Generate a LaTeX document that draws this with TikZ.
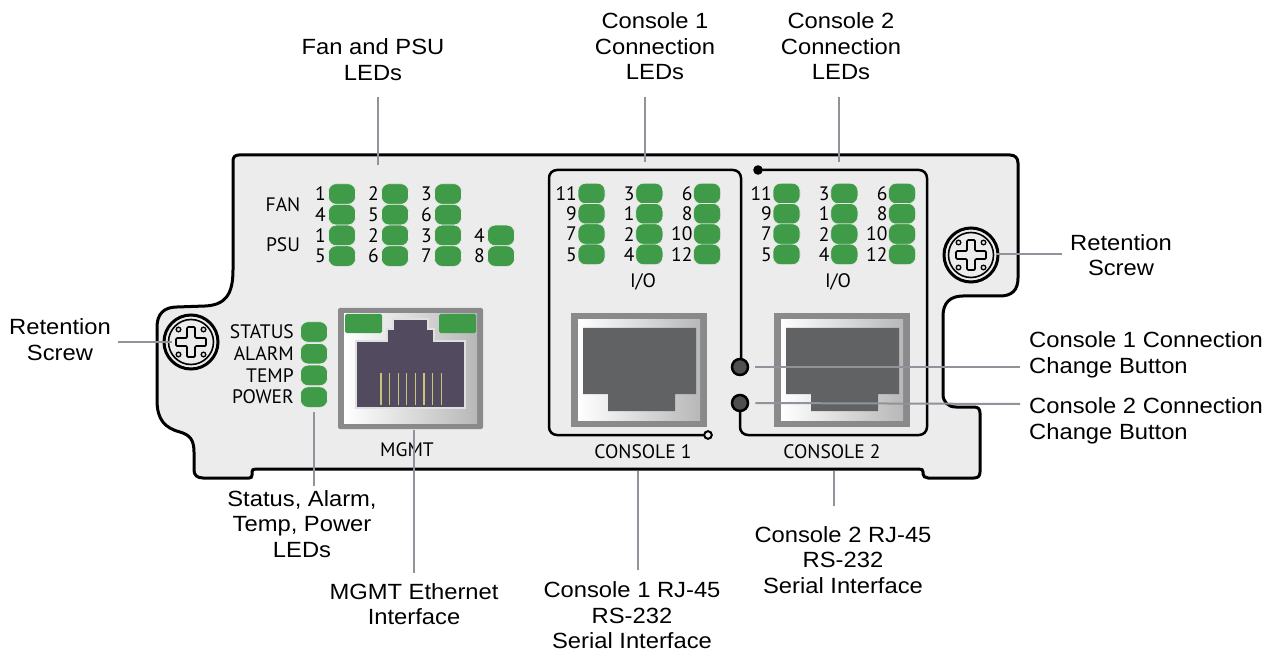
\documentclass[tikz,border=0pt]{standalone}
\usepackage{fontspec}
\setmainfont{Liberation Sans}[FakeStretch=1.08]
\newfontfamily\panelfont{PT Sans}
\definecolor{ledgreen}{HTML}{3F9B48}
\definecolor{panelbg}{HTML}{EBECEB}
\definecolor{callgray}{HTML}{8E949A}
\definecolor{framegray}{HTML}{8A8A8C}
\definecolor{jackpurple}{HTML}{524A5E}
\definecolor{jackgray}{HTML}{616264}
\definecolor{pinyellow}{HTML}{C8C27C}
\definecolor{btngray}{HTML}{4E4F51}
\tikzset{
  led/.style={rectangle, rounded corners=7.5pt, fill=ledgreen, draw=panelbg, line width=0.6pt,
    minimum width=27pt, minimum height=20.5pt, inner sep=0pt},
  ptxt/.style={font=\panelfont\fontsize{19.5}{21}\selectfont, inner sep=0pt},
  num/.style={ptxt, anchor=east},
  call/.style={font=\fontsize{22}{25.5}\selectfont, align=center, inner sep=0pt},
  callout/.style={draw=callgray, line width=2pt},
  boxline/.style={draw=black, line width=2.5pt},
  btn/.style={circle, fill=btngray, draw=black, line width=2.5pt, minimum size=16pt, inner sep=0pt},
  retscrew/.pic={
    \draw[line width=3pt, fill=panelbg] (0,0) circle (27);
    \draw[line width=1.6pt] (0,0) circle (22.5);
    \draw[line width=1.7pt, fill=panelbg, rounded corners=1.2pt] (-4,-15) -- (4,-15) -- (4,-4) -- (15,-4) -- (15,4) -- (4,4) -- (4,15) -- (-4,15) -- (-4,4) -- (-15,4) -- (-15,-4) -- (-4,-4) -- cycle;
    \foreach \sx in {-1,1} \foreach \sy in {-1,1} \draw[line width=1.3pt] (12.5*\sx,12.5*\sy) circle (2.3);
  }
}
\begin{document}
\begin{tikzpicture}[x=1pt,y=-1pt]
\useasboundingbox[fill=white] (0,0) rectangle (1269,652);

% panel outline
\draw[line width=3pt, fill=panelbg] (239,155) -- (1010,155) .. controls (1015,155) and (1018,158) .. (1018,163)
 -- (1018,278) .. controls (1018,290) and (1012,296) .. (1000,296)
 -- (963,296) .. controls (950,296) and (943,303) .. (943,316)
 -- (943,394) .. controls (943,402) and (948,407) .. (956,407)
 -- (974,407) .. controls (978,407) and (980,409) .. (980,413)
 -- (980,472) .. controls (980,476) and (978,478) .. (974,478)
 -- (928,478) .. controls (925,478) and (923,476) .. (923,474)
 -- (923,472) .. controls (923,470) and (922,469) .. (919,469)
 -- (256,469) .. controls (253,469) and (252,470) .. (252,472)
 -- (252,475) .. controls (252,477) and (251,478) .. (249,478)
 -- (203,478) .. controls (197,478) and (194,475) .. (194,470)
 -- (194,452) .. controls (194,440) and (190,435) .. (180,432)
 .. controls (165,428) and (157,420) .. (157,400)
 -- (157,327) .. controls (157,314) and (164,307) .. (177,307)
 -- (205,306) .. controls (225,305) and (233,295) .. (233,270)
 -- (233,161) .. controls (233,157) and (235,155) .. (239,155) -- cycle;

% screws
\pic at (191,342) {retscrew};
\pic at (971,255) {retscrew};

% FAN / PSU LEDs
\node[ptxt] (fanlab) at (283,205) {FAN};
\node[ptxt] (psulab) at (283,245) {PSU};
\foreach \n/\c/\r in {1/1/1,2/2/1,3/3/1,4/1/2,5/2/2,6/3/2}{
  \node[led] (fan\n) at ({342+53*(\c-1)},{194+20.7*(\r-1)}) {};
  \node[num] (fann\n) at ({326+53*(\c-1)},{194+20.7*(\r-1)}) {\n};
}
\foreach \n/\c/\r in {1/1/1,2/2/1,3/3/1,4/4/1,5/1/2,6/2/2,7/3/2,8/4/2}{
  \node[led] (psu\n) at ({342+53*(\c-1)},{235.4+20.7*(\r-1)}) {};
  \node[num] (psun\n) at ({326+53*(\c-1)},{235.4+20.7*(\r-1)}) {\n};
}

% status LEDs
\foreach \t/\r in {STATUS/0,ALARM/1,TEMP/2,POWER/3}{
  \node[led] (st\t) at (314,{332+21.7*\r}) {};
  \node[num] (stl\t) at (294,{332+21.7*\r}) {\t};
}

% MGMT port
\fill[framegray, rounded corners=2pt] (338,308) rectangle (483,429);
\shade[left color=white, right color=black!28] (344,314) rectangle (477,423);
\fill[ledgreen, rounded corners=1.5pt] (345,314) rectangle (382,333);
\fill[ledgreen, rounded corners=1.5pt] (439,314) rectangle (476,333);
\draw[fill=jackpurple, draw=black!12, line width=1.2pt] (393,319) -- (428,319) -- (428,329) -- (434,329) -- (434,341) -- (465,341) -- (465,408) -- (356,408) -- (356,341) -- (387,341) -- (387,329) -- (393,329) -- cycle;
\foreach \i in {0,...,7} \draw[pinyellow, line width=1.2pt] ({381+8.6*\i},373) -- ({381+8.6*\i},405);
\node[ptxt] (mgmtlab) at (407,450) {MGMT};

% console boxes
\draw[boxline, rounded corners=8pt] (741,359) -- (741,170) -- (549,170) -- (549,435) -- (704,435);
\draw[line width=2pt, fill=panelbg] (708,435) circle (3.8);
\fill (758,170) circle (4.8);
\draw[boxline, rounded corners=8pt] (758,170) -- (927,170) -- (927,435) -- (740,435) -- (740,411);
\node[btn] (btn1) at (740,367) {};
\node[btn] (btn2) at (740,403) {};

% console LEDs
\foreach \bx/\bn in {0/a,195/b}{
  \foreach \n/\c/\r in {11/1/1,9/1/2,7/1/3,5/1/4,3/2/1,1/2/2,2/2/3,4/2/4,6/3/1,8/3/2,10/3/3,12/3/4}{
    \node[led] (led\bn\n) at ({591.5+\bx+57.8*(\c-1)},{193.5+20.3*(\r-1)}) {};
    \node[num] (ledn\bn\n) at ({577+\bx+57.8*(\c-1)},{193.5+20.3*(\r-1)}) {\n};
  }
}
\node[ptxt] (io1) at (643,282) {I/O};
\node[ptxt] (io2) at (838,282) {I/O};

% console ports
\foreach \dx in {0,203}{
  \fill[framegray] (571+\dx,313) rectangle (707+\dx,427);
  \shade[left color=white, right color=black!28] (578+\dx,320) rectangle (700+\dx,420);
  \fill[jackgray] (583+\dx,328) -- (696+\dx,328) -- (696+\dx,394) -- (675+\dx,394) -- (675+\dx,411) -- (608+\dx,411) -- (608+\dx,394) -- (583+\dx,394) -- cycle;
}
\node[ptxt] (c1lab) at (643,452) {CONSOLE 1};
\node[ptxt] (c2lab) at (832,452) {CONSOLE 2};

% callout labels
\node[call] (fanlbl) at (373,59.5) {Fan and PSU\\LEDs};
\node[call] (c1lbl) at (655,46.5) {Console 1\\Connection\\LEDs};
\node[call] (c2lbl) at (841,46.5) {Console 2\\Connection\\LEDs};
\node[call] (rsr) at (1121,255) {Retention\\Screw};
\node[call] (rsl) at (60,339.5) {Retention\\Screw};
\node[call, anchor=west, align=left] (b1lbl) at (1029,355) {Console 1 Connection\\Change Button};
\node[call, anchor=west, align=left] (b2lbl) at (1029,421) {Console 2 Connection\\Change Button};
\node[call] (stlbl) at (302,524) {Status, Alarm,\\Temp, Power\\LEDs};
\node[call] (mglbl) at (414,604) {MGMT Ethernet\\Interface};
\node[call] (c1ilbl) at (632,615.5) {Console 1 RJ-45\\RS-232\\Serial Interface};
\node[call] (c2ilbl) at (843,560) {Console 2 RJ-45\\RS-232\\Serial Interface};

% callout lines
\coordinate (fanA) at (378,97);   \coordinate (fanB) at (378,165);
\coordinate (c1A) at (645,97);    \coordinate (c1B) at (645,162);
\coordinate (c2A) at (839,97);    \coordinate (c2B) at (839,162);
\coordinate (rsrA) at (1062,254); \coordinate (rsrB) at (996,254);
\coordinate (rslA) at (118,342);  \coordinate (rslB) at (172,342);
\coordinate (b1E) at (1020,367);
\coordinate (b2E) at (1020,404);
\coordinate (stA) at (314,412);   \coordinate (stB) at (314,486);
\coordinate (mgA) at (414,430);   \coordinate (mgB) at (414,573);
\coordinate (ciA) at (638,471);   \coordinate (ciB) at (638,570);
\coordinate (cjA) at (834,471);   \coordinate (cjB) at (834,506);
\draw[callout] (fanA) -- (fanB);
\draw[callout] (c1A) -- (c1B);
\draw[callout] (c2A) -- (c2B);
\draw[callout] (rsrA) -- (rsrB);
\draw[callout] (rslA) -- (rslB);
\draw[callout] ([xshift=6pt]btn1.east) -- (b1E);
\draw[callout] ([xshift=6pt]btn2.east) -- (b2E);
\draw[callout] (stA) -- (stB);
\draw[callout] (mgA) -- (mgB);
\draw[callout] (ciA) -- (ciB);
\draw[callout] (cjA) -- (cjB);
\end{tikzpicture}
\end{document}
